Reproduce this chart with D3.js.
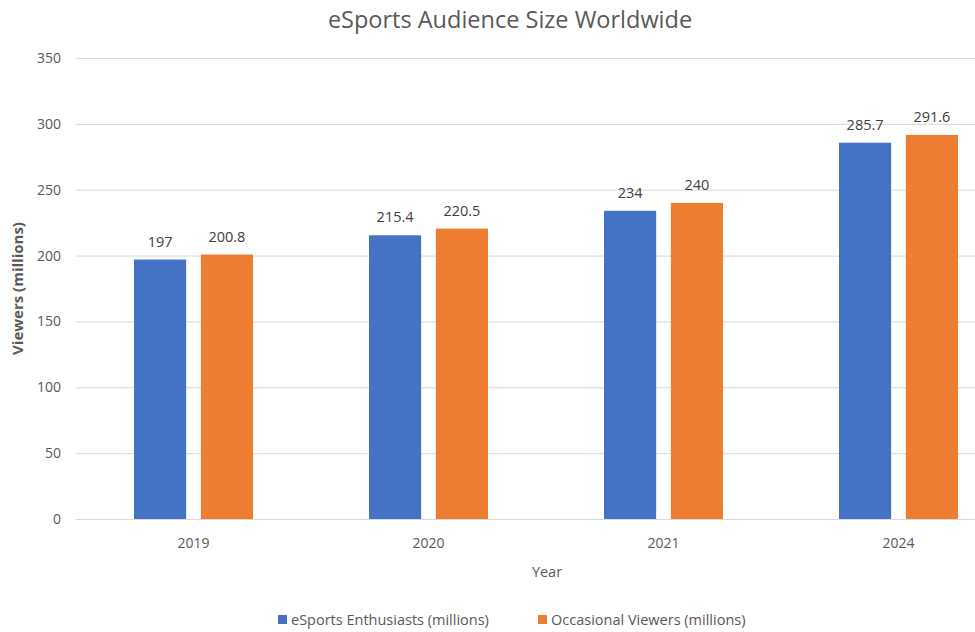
<!DOCTYPE html>
<html>
<head>
<meta charset="utf-8">
<script src="https://cdn.jsdelivr.net/npm/d3@7"></script>
<style>
  html, body { margin: 0; padding: 0; background: #fff; }
  svg { display: block; font-family: "Open Sans", "Noto Sans", sans-serif; }
</style>
</head>
<body>
<svg id="chart" width="975" height="632"></svg>
<script>
// Audience data, in millions of viewers
const years = ["2019", "2020", "2021", "2024"];
const seriesNames = ["eSports Enthusiasts (millions)", "Occasional Viewers (millions)"];
const enthusiasts = [197, 215.4, 234, 285.7];
const occasional = [200.8, 220.5, 240, 291.6];
const yTicks = [0, 50, 100, 150, 200, 250, 300, 350];
const colors = ["#4472C4", "#ED7D31"];

const svg = d3.select("#chart");
const plotLeft = 76, plotRight = 1016, plotTop = 58, plotBottom = 519;

const rows = years.map((yr, i) => ({ year: yr, values: [enthusiasts[i], occasional[i]] }));

const x0 = d3.scaleBand().domain(years).range([plotLeft, plotRight]).paddingInner(0).paddingOuter(0);
const x1 = d3.scaleBand().domain([0, 1]).range([-59.5, 59.5]).paddingInner(0.22);
const y = d3.scaleLinear().domain([0, 350]).range([plotBottom, plotTop]);

const textColor = "#595959";

// Title
svg.append("text")
  .attr("x", 510).attr("y", 28)
  .attr("text-anchor", "middle")
  .attr("font-size", 23.5).attr("fill", textColor)
  .text("eSports Audience Size Worldwide");

// Gridlines + y axis labels
const yAxis = d3.axisLeft(y).tickValues(yTicks).tickSize(-(plotRight - plotLeft)).tickPadding(15);
const gy = svg.append("g").attr("transform", `translate(${plotLeft},0)`).call(yAxis);
gy.select(".domain").remove();
gy.selectAll(".tick line").attr("stroke", "#d9d9d9").attr("stroke-width", 1);
gy.selectAll(".tick text").attr("fill", textColor).attr("font-size", 14)
  .attr("font-family", "\"Open Sans\", sans-serif");

// X axis labels
const xAxis = d3.axisBottom(x0).tickSize(0).tickPadding(19);
const gx = svg.append("g").attr("transform", `translate(0,${plotBottom})`).call(xAxis);
gx.select(".domain").remove();
gx.selectAll(".tick text").attr("fill", textColor).attr("font-size", 14)
  .attr("font-family", "\"Open Sans\", sans-serif");

// Bars
const groups = svg.append("g").selectAll("g").data(rows).join("g")
  .attr("transform", d => `translate(${x0(d.year) + x0.bandwidth() / 2},0)`);

groups.selectAll("rect").data(d => d.values.map((v, k) => ({ k, v }))).join("rect")
  .attr("x", d => x1(d.k))
  .attr("width", x1.bandwidth())
  .attr("y", d => y(d.v))
  .attr("height", d => y(0) - y(d.v))
  .attr("fill", d => colors[d.k]);

groups.selectAll("text.val").data(d => d.values.map((v, k) => ({ k, v }))).join("text")
  .attr("class", "val")
  .attr("x", d => x1(d.k) + x1.bandwidth() / 2)
  .attr("y", d => y(d.v) - 13)
  .attr("text-anchor", "middle")
  .attr("font-size", 14.5).attr("fill", "#404040")
  .text(d => d.v);

// Axis titles
svg.append("text")
  .attr("transform", `translate(23,${(plotTop + plotBottom) / 2}) rotate(-90)`)
  .attr("text-anchor", "middle")
  .attr("font-size", 15).attr("font-weight", "bold").attr("fill", textColor)
  .text("Viewers (millions)");

svg.append("text")
  .attr("x", 547).attr("y", 577)
  .attr("text-anchor", "middle")
  .attr("font-size", 14.5).attr("fill", textColor)
  .text("Year");

// Legend
const legendX = [278, 538];
const legend = svg.append("g").selectAll("g").data(seriesNames).join("g")
  .attr("transform", (d, i) => `translate(${legendX[i]},625)`);
legend.append("rect").attr("x", 0).attr("y", -10).attr("width", 9).attr("height", 9)
  .attr("fill", (d, i) => colors[i]);
legend.append("text").attr("x", 13).attr("y", 0)
  .attr("font-size", 14.5).attr("fill", textColor)
  .text(d => d);
</script>
</body>
</html>
